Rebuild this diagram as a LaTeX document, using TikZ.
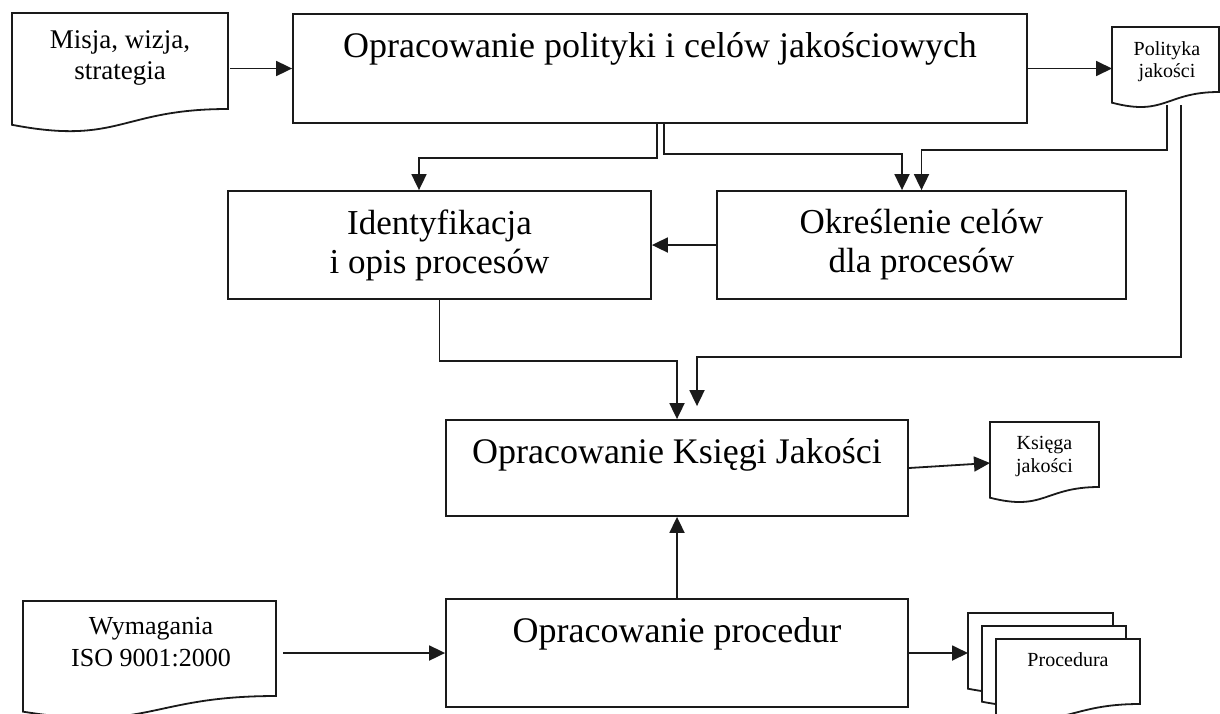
\documentclass[tikz,border=0pt]{standalone}
\usepackage{fontspec}
\setmainfont{Liberation Serif}
\usetikzlibrary{arrows.meta,calc}
\definecolor{ink}{HTML}{1A1A1A}
\tikzset{
  box/.style={draw=ink, line width=1.8pt, inner sep=0pt, align=center, text=black},
  bigfont/.style={font=\fontsize{36}{40}\selectfont},
  midfont/.style={font=\fontsize{35}{39}\selectfont},
  docnode/.style={inner sep=0pt, outer sep=0pt, anchor=north west, draw=none},
  doctext/.style={align=center, inner sep=0pt, text=black},
  docline/.style={draw=ink, line width=1.8pt, line join=miter},
  arr/.style={draw=ink, line width=1.8pt, -{Triangle[length=16pt,width=15pt]}},
}
\newcommand\docoutline[2][]{%
  \draw[docline,#1] let \p1=(#2.north west), \p2=(#2.south east) in
    (\p1) -- (\x2,\y1) -- (\p2)
    .. controls ({(\x1+\x2)/2},\y2) and ({(\x1+\x2)/2},{\y1+1.3803*(\y2-\y1)}) ..
    (\x1,{\y1+1.1646*(\y2-\y1)}) -- cycle;}
\begin{document}
\begin{tikzpicture}[x=1pt,y=-1pt]
\useasboundingbox (0,0) rectangle (1220,713);

% process boxes
\node[box,bigfont,minimum width=734pt,minimum height=109pt,text height=25pt,text depth=48pt] (main) at (660,68.5) {Opracowanie polityki i celów jakościowych};
\node[box,midfont,minimum width=423pt,minimum height=108pt] (ident) at (439.5,245) {Identyfikacja\\i opis procesów};
\node[box,midfont,minimum width=409pt,minimum height=108pt] (okr) at (921.5,245) {Określenie celów\\dla procesów};
\node[box,bigfont,minimum width=462pt,minimum height=96pt,text height=25pt,text depth=35pt] (ksb) at (677,468) {Opracowanie Księgi Jakości};
\node[box,bigfont,minimum width=462pt,minimum height=108pt,text height=25pt,text depth=47pt] (proc) at (677,653) {Opracowanie procedur};

% documents
\node[docnode,minimum width=216pt,minimum height=96pt] (misja) at (12,13) {};
\docoutline{misja}
\node[doctext,font=\fontsize{27}{31}\selectfont] (misjat) at (120,57.5) {Misja, wizja,\\strategia};

\node[docnode,minimum width=107pt,minimum height=65pt] (polit) at (1112,27) {};
\docoutline{polit}
\node[doctext,font=\fontsize{20}{22}\selectfont] (politt) at (1167,61.3) {Polityka\\jakości};

\node[docnode,minimum width=109pt,minimum height=65pt] (kdoc) at (990,422) {};
\docoutline{kdoc}
\node[doctext,font=\fontsize{20}{23}\selectfont] (kdoct) at (1044.5,456.8) {Księga\\jakości};

\node[docnode,minimum width=253pt,minimum height=95pt] (wym) at (23,601) {};
\docoutline{wym}
\node[doctext,font=\fontsize{26}{32}\selectfont] (wymt) at (151,642.4) {Wymagania\\ISO 9001:2000};

\node[docnode,minimum width=145pt,minimum height=65pt] (pd1) at (968,613) {};
\docoutline[fill=white]{pd1}
\node[docnode,minimum width=144pt,minimum height=65pt] (pd2) at (982,626) {};
\docoutline[fill=white]{pd2}
\node[docnode,minimum width=144pt,minimum height=65pt] (pd3) at (996,639) {};
\docoutline[fill=white]{pd3}
\node[doctext,font=\fontsize{20}{22}\selectfont] (pdt) at (1068,660) {Procedura};

% connectors
\draw[arr] ([xshift=2pt]misja.east |- main.west) -- (main.west);
\draw[arr] (main.east) -- (main.east -| polit.west);
\draw[arr] ([xshift=-3pt]main.south) -- ++(0,34) -| ([xshift=-20.5pt]ident.north);
\draw[arr] ([xshift=4pt]main.south) -- ++(0,30) -| ([xshift=-19.5pt]okr.north);
\draw[arr] ([xshift=1.5pt,yshift=-13pt]polit.south) -- ++(0,45) -| (okr.north);
\coordinate (polend) at ([xshift=20pt,yshift=13pt]ksb.north);
\draw[arr] ([xshift=15.5pt,yshift=-13pt]polit.south) -- ++(0,252) -| (polend);
\draw[arr] (okr.west) -- (ident.east);
\draw[arr] (ident.south) -- ++(0,61) -| (ksb.north);
\draw[arr] (ksb.east) -- ([yshift=-8.5pt]kdoc.west);
\draw[arr] (proc.north) -- (ksb.south);
\draw[arr] ([xshift=7pt]wym.east |- proc.west) -- (proc.west);
\draw[arr] (proc.east) -- (proc.east -| pd1.west);
\end{tikzpicture}
\end{document}
